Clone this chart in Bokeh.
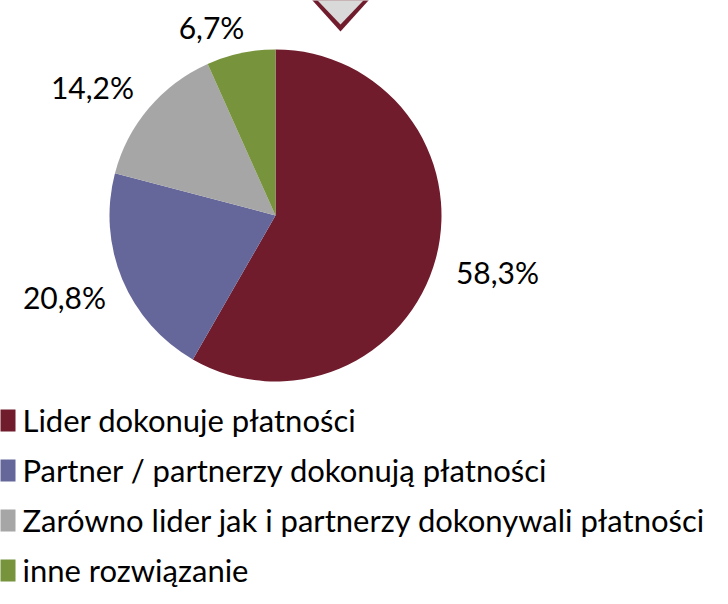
import math
from bokeh.plotting import figure
from bokeh.models import Range1d, ColumnDataSource
from bokeh.core.properties import value
from bokeh.embed import file_html
from bokeh.resources import INLINE

categories = ["Lider dokonuje płatności",
              "Partner / partnerzy dokonują płatności",
              "Zarówno lider jak i partnerzy dokonywali płatności",
              "inne rozwiązanie"]
shares = [58.3, 20.8, 14.2, 6.7]
labels = ["58,3%", "20,8%", "14,2%", "6,7%"]
colors = ["#701C2D", "#656699", "#A6A6A6", "#77933C"]

W, H = 712, 588
FONT = "Lato"

p = figure(width=W, height=H, output_backend="svg", toolbar_location=None,
           x_range=Range1d(0, W), y_range=Range1d(0, H), min_border=0)
p.axis.visible = False
p.grid.visible = False
p.outline_line_color = None
p.background_fill_color = "white"
p.border_fill_color = "white"

def Y(y):
    return H - y

# pie
cx, cy, r = 275, 215, 166
total = sum(shares)
starts, ends = [], []
a = math.pi / 2
for s in shares:
    starts.append(a)
    a -= s / total * 2 * math.pi
    ends.append(a)
src = ColumnDataSource(dict(start=starts, end=ends, color=colors))
p.wedge(x=cx, y=Y(cy), radius=r, start_angle="start", end_angle="end",
        direction="clock", fill_color="color", line_color=None, source=src)

# percentage labels
lx = [497, 64, 92, 211]
ly = [271, 296, 86, 26]
p.text(x=lx, y=[Y(v) for v in ly], text=labels, text_font=value(FONT),
       text_font_size="30px", text_align="center", text_baseline="middle",
       text_color="#000000")

# marker triangle at top
p.patch([294, 386, 340], [Y(-20), Y(-20), Y(31)], fill_color="#701C2D", line_color=None)
p.patch([298, 382, 340], [Y(-20), Y(-20), Y(24)], fill_color="#D9D9D9", line_color=None)

# legend
rows = [419, 469, 519, 569]
p.rect(x=[4] * 4, y=[Y(v + 1) for v in rows], width=22, height=22,
       fill_color=colors, line_color=None)
p.text(x=[22] * 4, y=[Y(v) for v in rows], text=categories, text_font=value(FONT),
       text_font_size="31px", text_align="left", text_baseline="middle",
       text_color="#000000")

open("out.html", "w").write(file_html(p, INLINE))
